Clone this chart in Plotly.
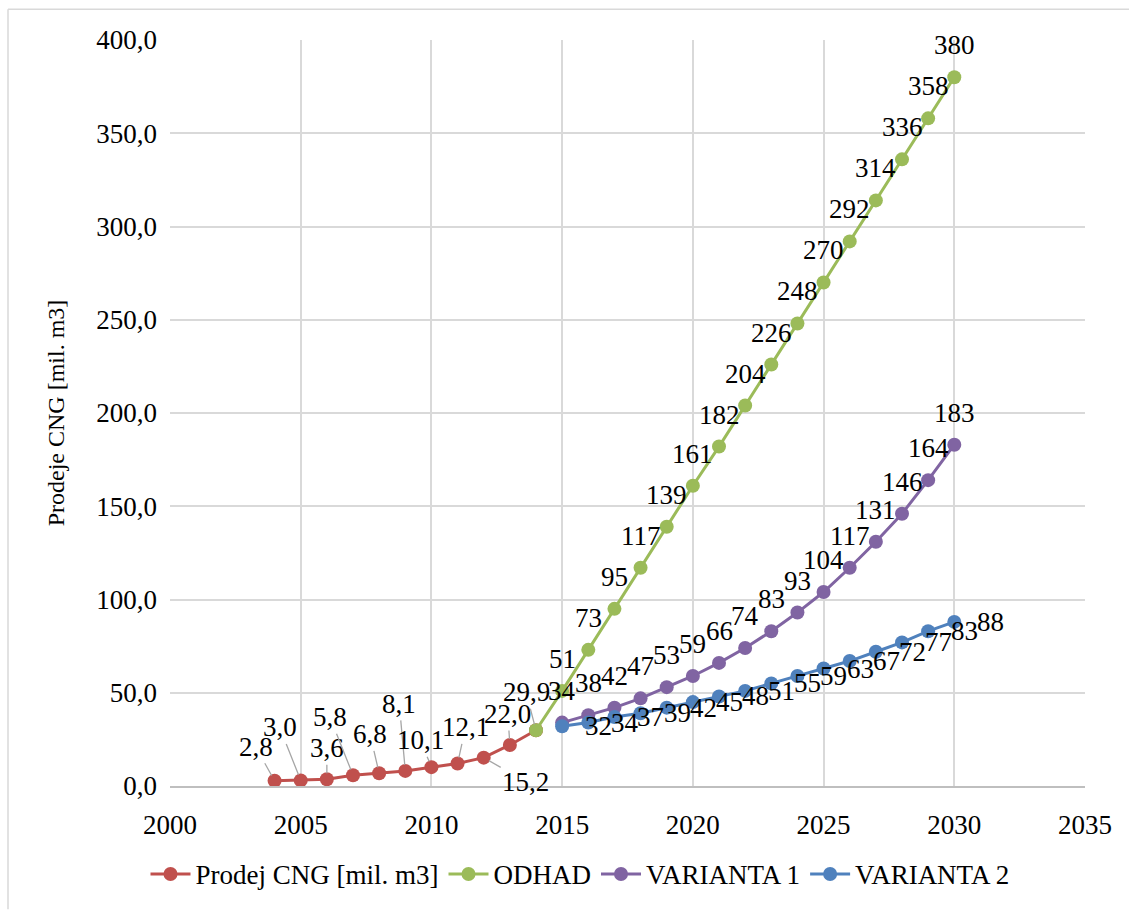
import plotly.graph_objects as go

# --- data -------------------------------------------------------------
years_hist = [2004, 2005, 2006, 2007, 2008, 2009, 2010, 2011, 2012, 2013, 2014]
prodej_cng = [2.8, 3.0, 3.6, 5.8, 6.8, 8.1, 10.1, 12.1, 15.2, 22.0, 29.9]

years_odhad = [2014, 2015, 2016, 2017, 2018, 2019, 2020, 2021, 2022,
               2023, 2024, 2025, 2026, 2027, 2028, 2029, 2030]
odhad = [29.9, 51, 73, 95, 117, 139, 161, 182, 204,
         226, 248, 270, 292, 314, 336, 358, 380]

years_var = [2015, 2016, 2017, 2018, 2019, 2020, 2021, 2022,
             2023, 2024, 2025, 2026, 2027, 2028, 2029, 2030]
varianta_1 = [34, 38, 42, 47, 53, 59, 66, 74, 83, 93, 104, 117, 131, 146, 164, 183]
varianta_2 = [32, 34, 37, 39, 42, 45, 48, 51, 55, 59, 63, 67, 72, 77, 83, 88]

y_ticks = [0, 50, 100, 150, 200, 250, 300, 350, 400]
y_tick_labels = ["0,0", "50,0", "100,0", "150,0", "200,0", "250,0", "300,0", "350,0", "400,0"]
x_ticks = [2000, 2005, 2010, 2015, 2020, 2025, 2030, 2035]

# --- style ------------------------------------------------------------
FONT = "Liberation Serif"
RED, GREEN, PURPLE, BLUE = "#C0504D", "#9BBB59", "#8064A2", "#4F81BD"
GRID = "#D9D9D9"
W, H = 1129, 911
ML, MR, MT, MB = 170, 44, 40, 120
FS = 27

# pixel offsets of the moved labels of the historic series (label centre vs. point)
red_label_offsets = [(-19, -34), (-21, -53), (0, -31), (-23, -58), (-9, -39), (-6, -67),
                     (-11, -27), (8, -36), (42, 24), (-2, -31), (-10, -38)]


def fmt_dec(v):
    return f"{v:.1f}".replace(".", ",")


def font(size=FS):
    return dict(family=FONT, size=size, color="#000000")


fig = go.Figure()

series = [
    ("Prodej CNG [mil. m3]", years_hist, prodej_cng, RED),
    ("ODHAD", years_odhad, odhad, GREEN),
    ("VARIANTA 1", years_var, varianta_1, PURPLE),
    ("VARIANTA 2", years_var, varianta_2, BLUE),
]
for name, xs, ys, col in series:
    fig.add_trace(go.Scatter(
        x=xs, y=ys, name=name, mode="lines+markers",
        line=dict(color=col, width=3),
        marker=dict(color=col, size=14),
    ))

annotations = []

# historic series: labels moved off the points, with leader lines
for (x, y), (ax, ay) in zip(zip(years_hist, prodej_cng), red_label_offsets):
    annotations.append(dict(
        x=x, y=y, xref="x", yref="y", text=fmt_dec(y), font=font(),
        showarrow=True, arrowhead=0, arrowwidth=1.3, arrowcolor="#A6A6A6",
        ax=ax, ay=ay, standoff=6,
    ))

# forecast series: labels above the points
for xs, ys in [(years_odhad[1:], odhad[1:]), (years_var, varianta_1)]:
    for x, y in zip(xs, ys):
        annotations.append(dict(
            x=x, y=y, xref="x", yref="y", text=f"{y:.0f}", font=font(),
            showarrow=False, yanchor="middle", xanchor="center", yshift=32,
        ))

# second variant: labels right of the points
for x, y in zip(years_var, varianta_2):
    annotations.append(dict(
        x=x, y=y, xref="x", yref="y", text=f"{y:.0f}", font=font(),
        showarrow=False, yanchor="middle", xanchor="left", xshift=21,
    ))

pw, ph = W - ML - MR, H - MT - MB
px = lambda p: (p - ML) / pw
py = lambda p: (H - MB - p) / ph

fig.update_layout(
    width=W, height=H,
    margin=dict(l=ML, r=MR, t=MT, b=MB),
    paper_bgcolor="white", plot_bgcolor="white",
    showlegend=True,
    legend=dict(orientation="h", x=px(580), xanchor="center", y=py(880), yanchor="middle",
                font=font(), itemwidth=40, bgcolor="rgba(0,0,0,0)"),
    annotations=annotations,
    shapes=[
        dict(type="line", xref="paper", yref="paper", x0=px(8), x1=px(1135), y0=py(9), y1=py(9),
             line=dict(color="#D9D9D9", width=1.5)),
        dict(type="line", xref="paper", yref="paper", x0=px(8), x1=px(8), y0=py(9), y1=py(915),
             line=dict(color="#D9D9D9", width=1.5)),
    ],
    xaxis=dict(range=[2000, 2035], tickvals=x_ticks, ticktext=[str(t) for t in x_ticks],
               showgrid=True, gridcolor=GRID, gridwidth=1.5, zeroline=False,
               showline=True, linecolor="#BFBFBF", linewidth=1.5,
               ticks="", ticklabelstandoff=14, tickfont=font()),
    yaxis=dict(range=[0, 400], tickvals=y_ticks, ticktext=y_tick_labels,
               showgrid=True, gridcolor=GRID, gridwidth=1.5, zeroline=False,
               ticks="", ticklabelstandoff=12, tickfont=font(),
               title=dict(text="Prodeje CNG [mil. m3]", font=font(24), standoff=24)),
)

fig.write_html("out.html")
